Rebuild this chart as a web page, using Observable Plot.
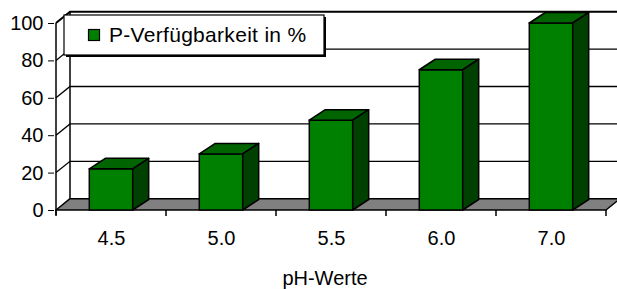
<!DOCTYPE html>
<html>
<head>
<meta charset="utf-8">
<script src="https://cdn.jsdelivr.net/npm/d3@7"></script>
<script src="https://cdn.jsdelivr.net/npm/@observablehq/plot@0.6"></script>
<style>
  html, body { margin: 0; padding: 0; background: #fff; }
</style>
</head>
<body>
<div id="chart"></div>
<script>
// ---- data ----
const categories = ["4.5", "5.0", "5.5", "6.0", "7.0"];
const values = [22, 30, 48, 75, 100];
const yTicks = [0, 20, 40, 60, 80, 100];
const seriesName = "P-Verfügbarkeit in %";
const axisTitle = "pH-Werte";

const data = categories.map((c, i) => ({ph: c, value: values[i]}));

// ---- styles ----
const frontColor = "#008000";
const topColor = "#006400";
const sideColor = "#004000";
const floorColor = "#808080";
const wallDx = 14, wallDy = 11.3;   // perspective depth of walls/floor
const barDx = 16, barDy = 10.5;     // perspective depth of bars
const barInset = 33.3;

function backdrop(index, scales, values_, dims) {
  const sx = scales.x, sy = scales.y;
  const bw = typeof sx.bandwidth === "function" ? sx.bandwidth() : 0;
  const x0 = sx(categories[0]);
  const x1 = sx(categories[categories.length - 1]) + bw;
  const g = d3.create("svg:g");
  // floor
  const yb = sy(0);
  g.append("path")
    .attr("d", `M${x0},${yb}L${x1},${yb}L${x1 + wallDx},${yb - wallDy}L${x0 + wallDx},${yb - wallDy}Z`)
    .attr("fill", floorColor).attr("stroke", "black").attr("stroke-width", 1.5).attr("stroke-linejoin", "round");
  // back wall left edge
  g.append("line")
    .attr("x1", x0 + wallDx).attr("x2", x0 + wallDx)
    .attr("y1", sy(yTicks[yTicks.length - 1]) - wallDy).attr("y2", yb - wallDy)
    .attr("stroke", "black").attr("stroke-width", 1.5);
  // gridlines: side diagonal + back wall
  for (const v of yTicks) {
    if (v === 0) continue;
    const yy = sy(v);
    g.append("path")
      .attr("d", `M${x0},${yy}L${x0 + wallDx},${yy - wallDy}L${x1 + wallDx},${yy - wallDy}`)
      .attr("fill", "none").attr("stroke", "black").attr("stroke-width", v === 100 ? 2 : 1.3);
  }
  // y axis line
  g.append("line")
    .attr("x1", x0).attr("x2", x0)
    .attr("y1", sy(yTicks[yTicks.length - 1])).attr("y2", yb + 5)
    .attr("stroke", "black").attr("stroke-width", 1.5);
  // x tick marks at category boundaries
  for (let i = 0; i <= categories.length; i++) {
    const xx = i < categories.length ? sx(categories[i]) : x1;
    g.append("line")
      .attr("x1", xx).attr("x2", xx).attr("y1", yb).attr("y2", yb + 6)
      .attr("stroke", "black").attr("stroke-width", 1.5);
  }
  return g.node();
}

function barFaces(index, scales) {
  const sx = scales.x, sy = scales.y;
  const bw = typeof sx.bandwidth === "function" ? sx.bandwidth() : 0;
  const g = d3.create("svg:g")
    .attr("stroke", "black").attr("stroke-width", 1.5).attr("stroke-linejoin", "round");
  for (const d of data) {
    const l = sx(d.ph) + barInset, r = sx(d.ph) + bw - barInset;
    const t = sy(d.value), b = sy(0);
    // top face
    g.append("path")
      .attr("d", `M${l},${t}L${r},${t}L${r + barDx},${t - barDy}L${l + barDx},${t - barDy}Z`)
      .attr("fill", topColor);
    // side face
    g.append("path")
      .attr("d", `M${r},${t}L${r + barDx},${t - barDy}L${r + barDx},${b - barDy}L${r},${b}Z`)
      .attr("fill", sideColor);
  }
  return g.node();
}

function legend() {
  const g = d3.create("svg:g");
  const x = 64, y = 15, w = 260, h = 40;
  g.append("rect").attr("x", x + 2).attr("y", y + 2).attr("width", w).attr("height", h).attr("fill", "black");
  g.append("rect").attr("x", x).attr("y", y).attr("width", w).attr("height", h)
    .attr("fill", "white").attr("stroke", "black").attr("stroke-width", 1.2);
  g.append("rect").attr("x", 88.5).attr("y", 29.5).attr("width", 11).attr("height", 11)
    .attr("fill", frontColor).attr("stroke", "black").attr("stroke-width", 1.2);
  g.append("text").attr("x", 109).attr("y", 42)
    .attr("text-anchor", "start")
    .attr("font-size", "21px").attr("letter-spacing", "0.3px").attr("fill", "black")
    .text(seriesName);
  return g.node();
}

const chart = Plot.plot({
  width: 617,
  height: 289,
  marginLeft: 54,
  marginRight: 10,
  marginTop: 23,
  marginBottom: 79,
  style: {
    fontFamily: "'Liberation Sans', Arial, sans-serif",
    fontSize: "20px",
    background: "white",
    color: "black",
    overflow: "visible"
  },
  x: {type: "band", domain: categories, padding: 0, tickSize: 0, tickPadding: 20, label: null},
  y: {domain: [0, 100], ticks: yTicks, tickSize: 6, tickPadding: 5, label: null},
  marks: [
    backdrop,
    Plot.barY(data, {
      x: "ph", y: "value", fill: frontColor, stroke: "black", strokeWidth: 1.5,
      insetLeft: barInset, insetRight: barInset
    }),
    barFaces,
    legend,
    Plot.text([axisTitle], {text: d => d, frameAnchor: "bottom", dx: -6, dy: 74, lineAnchor: "bottom", fontSize: 20})
  ]
});
document.getElementById("chart").appendChild(chart);
</script>
</body>
</html>
